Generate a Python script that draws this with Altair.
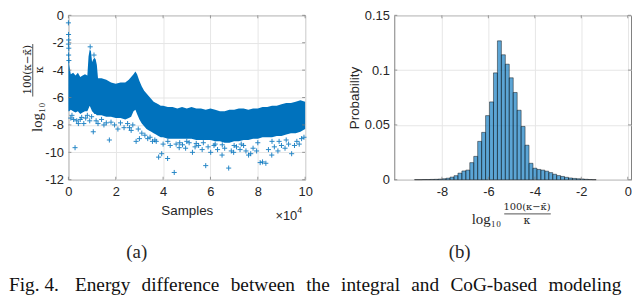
import altair as alt
import pandas as pd

# ---------------- data ----------------
# (a) dense band of the scatter: upper / lower edge of the solid core
env_s = [0, 300, 1000, 2000, 3000, 4000, 5000, 6000, 7000, 8000, 8500, 9000, 9500,
         10000, 10500, 11000, 11500, 12000, 12500, 14000, 16000, 18000, 20000, 22000,
         24000, 25500, 26500, 27500, 28300, 29000, 30000, 31000, 32000, 33000, 34000,
         35000, 36000, 37000, 38000, 39000, 40000, 42000, 44000, 46000, 48000, 50000,
         52000, 54000, 56000, 58000, 60000, 62000, 64000, 66000, 68000, 70000, 72000,
         74000, 76000, 78000, 80000, 82000, 84000, 86000, 88000, 90000, 92000, 94000,
         96000, 98000, 100000]
env_hi = [-1.8, -3.6, -4.3, -4.2, -4.4, -4.2, -4.5, -4.4, -4.3, -4.4, -3.0, -2.5, -2.6,
          -3.4, -3.2, -3.1, -3.2, -3.6, -4.6, -4.6, -4.7, -4.9, -5.0, -4.9,
          -4.9, -4.7, -4.5, -4.3, -4.1, -4.3, -4.8, -5.2, -5.5, -5.7, -5.9,
          -6.1, -6.3, -6.4, -6.5, -6.6, -6.6, -6.7, -6.7, -6.8, -6.7, -6.8,
          -6.7, -6.8, -6.8, -6.9, -6.8, -6.9, -7.0, -7.0, -6.9, -6.9, -6.8,
          -6.8, -6.9, -6.8, -6.8, -6.7, -6.7, -6.6, -6.6, -6.5, -6.4, -6.4,
          -6.3, -6.2, -6.3]
env_lo = [-7.0, -7.0, -6.9, -7.0, -7.1, -7.0, -7.2, -7.1, -7.0, -7.0, -6.8, -6.6, -6.8,
          -7.0, -7.1, -7.2, -7.2, -7.3, -7.3, -7.3, -7.4, -7.4, -7.5, -7.5,
          -7.6, -7.5, -7.4, -7.0, -6.9, -7.2, -7.6, -7.9, -8.1, -8.3, -8.4,
          -8.5, -8.6, -8.7, -8.8, -8.9, -8.9, -9.0, -9.0, -9.0, -9.0, -9.0,
          -9.0, -9.1, -9.1, -9.1, -9.1, -9.2, -9.2, -9.3, -9.3, -9.2, -9.2,
          -9.1, -9.1, -9.0, -9.0, -8.9, -8.9, -8.9, -8.8, -8.8, -8.7, -8.6,
          -8.6, -8.5, -8.3]

# (a) isolated '+' markers outside the solid core
pt_s = [0, 50, 100, 0, 150, 80, 200,
        1000, 1500, 2200, 2800, 3500, 4200, 5000, 5600, 6500, 7300, 8000, 9000, 9800,
        10500, 11700, 12500, 14000, 15000, 16000, 17300, 18000, 19500, 20900, 22000,
        23500, 25000, 25800, 26500, 27200, 28600, 29500, 30000, 31000, 32300, 33500,
        34500, 35500, 36500, 37100, 38100, 39400, 40000, 41900, 43000, 44700, 45500,
        46800, 48200, 49500, 51000, 52400, 53500, 55000, 56500, 58000, 59000, 60100,
        61500, 63000, 64900, 66000, 67700, 68800, 69800, 71000, 72500, 74000, 75000,
        76100, 77000, 78000, 79500, 81000, 82000, 83400, 84500, 85900, 87000, 88500,
        90000, 91500, 93000, 94300, 95500, 96500, 97500, 98500, 99500,
        42000, 47000, 50000, 54000, 57000, 62000, 65000, 70000, 73000, 80000, 86000,
        89000, 92000, 9200, 10800]
pt_v = [-0.55, -1.4, -1.8, -2.1, -2.4, -2.9, -3.3,
        -7.5, -7.3, -7.6, -9.66, -7.7, -7.9, -7.6, -7.45, -7.9, -7.5, -7.3, -7.7, -7.4,
        -8.5, -7.7, -7.9, -7.6, -8.0, -7.85, -9.1, -7.8, -8.0, -8.3, -7.85,
        -8.2, -7.9, -8.2, -8.4, -8.0, -9.2, -8.3, -9.0, -8.6, -8.75, -9.0,
        -8.9, -9.2, -9.1, -9.2, -10.35, -10.1, -9.4, -10.45, -9.5, -11.47, -9.4,
        -9.66, -9.45, -9.7, -9.3, -10.0, -9.6, -9.5, -9.8, -10.97, -9.6, -10.0,
        -9.5, -9.8, -10.2, -9.7, -11.15, -9.9, -10.0, -9.6, -9.8, -9.5, -9.9,
        -10.2, -10.1, -9.7, -9.9, -10.75, -10.7, -10.8, -9.8, -10.2, -9.6, -9.9,
        -9.5, -9.7, -9.4, -10.1, -9.5, -9.2, -9.4, -9.0, -8.9,
        -9.2, -9.3, -9.2, -9.35, -9.3, -9.4, -9.45, -9.5, -9.4, -9.3, -9.2,
        -9.2, -9.1, -2.3, -2.9]

# (b) histogram: bin left edges and probabilities
bin_left = [-9.18, -9.01, -8.84, -8.67, -8.50, -8.33, -8.16, -7.99, -7.82, -7.65,
            -7.48, -7.31, -7.14, -6.97, -6.80, -6.63, -6.46, -6.29, -6.12, -5.95,
            -5.78, -5.61, -5.44, -5.27, -5.10, -4.93, -4.76, -4.59, -4.42, -4.25,
            -4.08, -3.91, -3.74, -3.57, -3.40, -3.23, -3.06, -2.89, -2.72, -2.55,
            -2.38, -2.21, -2.04, -1.87, -1.70, -1.53]
bin_prob = [0.0001, 0.0001, 0.0002, 0.0002, 0.0003, 0.0004, 0.0006, 0.0009, 0.0014, 0.0024,
            0.0037, 0.0060, 0.0080, 0.0088, 0.0156, 0.0213, 0.0350, 0.0432, 0.0585, 0.0710,
            0.0975, 0.1267, 0.1140, 0.1054, 0.0930, 0.0796, 0.0634, 0.0486, 0.0315, 0.0150,
            0.0105, 0.0094, 0.0088, 0.0078, 0.0065, 0.0050, 0.0038, 0.0030, 0.0022, 0.0016,
            0.0012, 0.0009, 0.0007, 0.0004, 0.0002, 0.0001]
BIN_W = 0.17

# tick values / labels
a_xticks = [0, 20000, 40000, 60000, 80000, 100000]
a_yticks = [-12, -10, -8, -6, -4, -2, 0]
b_xticks = [-8, -6, -4, -2, 0]
b_yticks = [0, 0.05, 0.1, 0.15]

TXT = {
    "xa": "Samples",
    "yb": "Probability",
    "log": "log\u2081\u2080",
    "num": "100(\u03ba\u2212\u03ba\u0304)",
    "den": "\u03ba",
    "exp_base": "\u00d710",
    "exp": "4",
    "cap_a": "(a)",
    "cap_b": "(b)",
    "fig": "Fig. 4.\u2002\u2004Energy\u2004 difference\u2004 between\u2004 the\u2004 integral\u2004 and\u2004 CoG-based\u2004 modeling",
}

# ---------------- styling ----------------
BLUE = "#0072BD"
INK = "#262626"
BOX = "#7f7f7f"
GRID = "#e6e6e6"
SANS = "Liberation Sans"
SERIF = "Liberation Serif, DejaVu Serif"
MATH = "DejaVu Serif"
W, H = 239, 166


def text(t, x, y, size, font=SERIF, angle=0, align="center", baseline="middle", color=INK):
    return alt.Chart(pd.DataFrame({"t": [t]})).mark_text(
        font=font, fontSize=size, angle=angle, align=align, baseline=baseline, color=color
    ).encode(text="t:N", x=alt.value(x), y=alt.value(y))


def vrule(x, y1, y2, color=INK, width=0.8):
    return alt.Chart(pd.DataFrame({"d": [0]})).mark_rule(color=color, strokeWidth=width).encode(
        x=alt.value(x), y=alt.value(y1), y2=alt.value(y2))


def hrule(y, x1, x2, color=INK, width=0.8):
    return alt.Chart(pd.DataFrame({"d": [0]})).mark_rule(color=color, strokeWidth=width).encode(
        y=alt.value(y), x=alt.value(x1), x2=alt.value(x2))


def inner_ticks(xvals, yvals, xs, ys, xax, yax):
    """MATLAB style inward ticks on all four sides."""
    L = 3
    dx = pd.DataFrame({"v": xvals})
    dy = pd.DataFrame({"v": yvals})
    base_x = alt.Chart(dx).mark_rule(color=BOX, strokeWidth=0.8)
    base_y = alt.Chart(dy).mark_rule(color=BOX, strokeWidth=0.8)
    return [
        base_x.encode(x=alt.X("v:Q", scale=xs, axis=xax), y=alt.value(H), y2=alt.value(H - L)),
        base_x.encode(x=alt.X("v:Q", scale=xs, axis=xax), y=alt.value(0), y2=alt.value(L)),
        base_y.encode(y=alt.Y("v:Q", scale=ys, axis=yax), x=alt.value(0), x2=alt.value(L)),
        base_y.encode(y=alt.Y("v:Q", scale=ys, axis=yax), x=alt.value(W), x2=alt.value(W - L)),
    ]


# ---------------- panel (a) ----------------
xs_a = alt.Scale(domain=[0, 100000], nice=False, zero=False)
ys_a = alt.Scale(domain=[-12, 0], nice=False, zero=False)
xax_a = alt.Axis(values=a_xticks, labelExpr="datum.value / 10000 + ''", title=TXT["xa"],
                 grid=True, ticks=False, domain=False, labelPadding=6, titlePadding=5,
                 labelFlush=False)
yax_a = alt.Axis(values=a_yticks, labelExpr="datum.value + ''", title=None,
                 grid=True, ticks=False, domain=False, labelPadding=5)

env = pd.DataFrame({"s": env_s, "hi": env_hi, "lo": env_lo})
pts = pd.DataFrame({"s": pt_s, "v": pt_v})

band = alt.Chart(env).mark_area(color=BLUE, opacity=1).encode(
    x=alt.X("s:Q", scale=xs_a, axis=xax_a),
    y=alt.Y("hi:Q", scale=ys_a, axis=yax_a),
    y2="lo:Q",
)
dots = alt.Chart(pts).mark_point(
    shape="M-1,0L1,0M0,-1L0,1", size=26, filled=False, stroke=BLUE, strokeWidth=1, opacity=0.85
).encode(
    x=alt.X("s:Q", scale=xs_a, axis=xax_a),
    y=alt.Y("v:Q", scale=ys_a, axis=yax_a),
)

ann_a = [
    text(TXT["log"], -32, 103, 15, angle=270),
    text(TXT["num"], -41, 55, 10.5, font=MATH, angle=270),
    vrule(-36, 29, 82),
    text(TXT["den"], -29, 55, 11, font=MATH, angle=270),
    text(TXT["exp_base"], 209, 203, 13, font=SANS, align="left"),
    text(TXT["exp"], 231, 197, 9, font=SANS, align="left"),
    text(TXT["cap_a"], 69, 239, 19, font=SERIF),
    text(TXT["fig"], -60, 278, 19.5, font=SERIF, align="left", baseline="alphabetic", color="#111111"),
]

panel_a = alt.layer(band, dots, *inner_ticks(a_xticks, a_yticks, xs_a, ys_a, xax_a, yax_a),
                    *ann_a).properties(width=W, height=H)

# ---------------- panel (b) ----------------
xs_b = alt.Scale(domain=[-10.05, 0.14], nice=False, zero=False)
ys_b = alt.Scale(domain=[0, 0.15], nice=False, zero=False)
xax_b = alt.Axis(values=b_xticks, labelExpr="datum.value + ''", title=None,
                 grid=True, ticks=False, domain=False, labelPadding=6, labelFlush=False)
yax_b = alt.Axis(values=b_yticks, labelExpr="datum.value + ''", title=TXT["yb"],
                 grid=True, ticks=False, domain=False, labelPadding=5, titlePadding=3)

hist = pd.DataFrame({"a": bin_left, "p": bin_prob})
bars = alt.Chart(hist).transform_calculate(b=f"datum.a + {BIN_W}").mark_rect(
    fill=BLUE, fillOpacity=0.64, stroke="#000000", strokeWidth=0.6, strokeOpacity=0.75
).encode(
    x=alt.X("a:Q", scale=xs_b, axis=xax_b),
    x2="b:Q",
    y=alt.Y("p:Q", scale=ys_b, axis=yax_b),
    y2=alt.datum(0),
)

ann_b = [
    text(TXT["log"], 93, 206, 15),
    text(TXT["num"], 134, 194, 10, font=MATH),
    hrule(200.5, 111, 158),
    text(TXT["den"], 134, 208, 11, font=MATH),
    text(TXT["cap_b"], 66, 239, 19, font=SERIF),
]

panel_b = alt.layer(bars, *inner_ticks(b_xticks, b_yticks, xs_b, ys_b, xax_b, yax_b),
                    *ann_b).properties(width=W, height=H)

chart = alt.hconcat(panel_a, panel_b, spacing=90, bounds="flush").properties(
    padding={"left": 0, "top": -1, "right": 0, "bottom": 0}
).configure_view(
    stroke=BOX, strokeWidth=1
).configure_axis(
    labelFont=SANS, labelFontSize=13, labelColor=INK,
    titleFont=SANS, titleFontSize=13.5, titleColor=INK, titleFontWeight="normal",
    gridColor=GRID, gridWidth=1,
)

chart.save("out.html", embed_options={"renderer": "svg", "actions": False})
